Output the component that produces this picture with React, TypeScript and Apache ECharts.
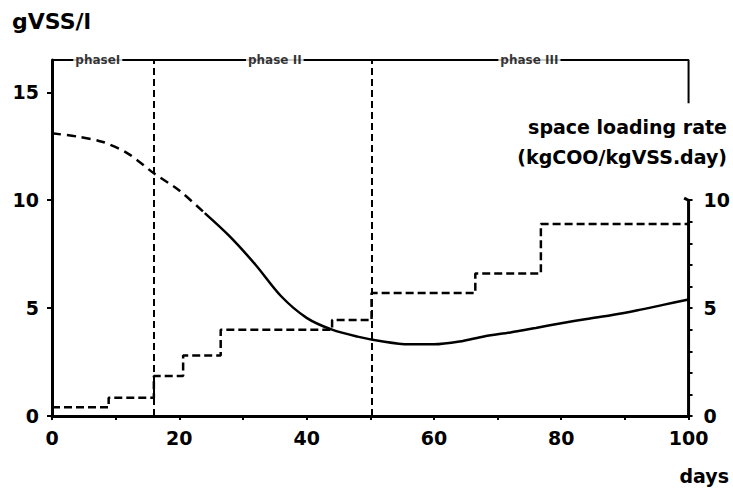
import { useEffect, useRef } from 'react';
import * as echarts from 'echarts';

// ---- data ----
const days = [0, 4, 8, 12, 16, 20, 24, 28, 32, 36, 40, 44, 48, 52, 56, 60, 64, 68, 72, 76, 80, 84, 88, 92, 96, 100];
const biomass = [13.1, 12.95, 12.7, 12.15, 11.25, 10.45, 9.4, 8.3, 7.0, 5.55, 4.55, 4.0, 3.68, 3.45, 3.32, 3.32, 3.45, 3.7, 3.87, 4.08, 4.3, 4.5, 4.68, 4.9, 5.15, 5.4];
const dashedUntilDay = 24;

const stepDays = [0, 8.9, 16, 20.6, 26.5, 44, 50.2, 66.5, 76.8, 100];
const stepRates = [0.4, 0.85, 1.85, 2.8, 4.0, 4.45, 5.7, 6.6, 8.9, 8.9];

const phaseBoundaries = [16, 50.2];
const phaseNames = ['phaseI', 'phase II', 'phase III'];
const phaseLabelDays = [7.2, 35, 75];

const xLabelTicks = [0, 20, 40, 60, 80, 100];
const xMinorTicks = [0, 10, 20, 30, 40, 50, 60, 70, 80, 90, 100];
const leftTicks = [0, 5, 10, 15];
const rightLabelTicks = [0, 5, 10];
const rightMinorTicks = [0, 1, 2, 3, 4, 5, 6, 7, 8, 9, 10];

const LEFT_MAX = 16.5;
const BRACKET_END = 14.5;
const RIGHT_AXIS_TOP = 10;

const FONT = 'DejaVu Sans';

export default function App() {
  const ref = useRef<HTMLDivElement>(null);

  useEffect(() => {
    const chart = echarts.init(ref.current!, null, { renderer: 'svg' });
    const pts = days.map((d, i) => [d, biomass[i]]);
    const dashedPts = pts.filter((p) => p[0] <= dashedUntilDay);
    const solidPts = pts.filter((p) => p[0] >= dashedUntilDay);
    const stepPts = stepDays.map((d, i) => [d, stepRates[i]]);

    const labelStyle = { color: '#000', fontSize: 19, fontWeight: 'bold' as const, fontFamily: FONT };

    chart.setOption({
      animation: false,
      backgroundColor: '#fff',
      grid: { left: 52, right: 41, top: 60, bottom: 77 },
      xAxis: {
        type: 'value',
        min: 0,
        max: 100,
        interval: 10,
        axisLine: { show: true, lineStyle: { color: '#000', width: 3 } },
        axisTick: { show: true, customValues: xMinorTicks, length: 4, lineStyle: { color: '#000', width: 2 } },
        axisLabel: { ...labelStyle, customValues: xLabelTicks, margin: 12 },
        splitLine: { show: false },
      },
      yAxis: [
        {
          type: 'value',
          min: 0,
          max: LEFT_MAX,
          position: 'left',
          axisLine: { show: true, lineStyle: { color: '#000', width: 3 } },
          axisTick: { show: true, customValues: leftTicks, length: 5, lineStyle: { color: '#000', width: 2 } },
          axisLabel: { ...labelStyle, customValues: leftTicks, margin: 13 },
          splitLine: { show: false },
        },
        {
          type: 'value',
          min: 0,
          max: LEFT_MAX,
          position: 'right',
          axisLine: { show: false },
          axisTick: { show: true, customValues: rightMinorTicks, length: 4, lineStyle: { color: '#000', width: 2 } },
          axisLabel: { ...labelStyle, customValues: rightLabelTicks, margin: 15 },
          splitLine: { show: false },
        },
      ],
      series: [
        {
          type: 'line',
          data: dashedPts,
          smooth: 0.3,
          symbol: 'none',
          lineStyle: { color: '#000', width: 2.5, type: [9, 6] },
        },
        {
          type: 'line',
          data: solidPts,
          smooth: 0.3,
          symbol: 'none',
          lineStyle: { color: '#000', width: 2.5 },
        },
        {
          type: 'line',
          yAxisIndex: 1,
          step: 'end',
          data: stepPts,
          symbol: 'none',
          lineStyle: { color: '#000', width: 2.5, type: [8, 4] },
          markLine: {
            silent: true,
            symbol: ['none', 'none'],
            label: { show: false },
            lineStyle: { color: '#000', width: 2, type: [7, 4] },
            data: phaseBoundaries.map((d) => ({ xAxis: d })),
          },
        },
        {
          type: 'line',
          yAxisIndex: 1,
          data: [[100, 0], [100, RIGHT_AXIS_TOP], [99.3, RIGHT_AXIS_TOP + 0.1]],
          symbol: 'none',
          clip: false,
          lineStyle: { color: '#000', width: 3 },
        },
        {
          type: 'line',
          data: [[0, LEFT_MAX], [100, LEFT_MAX], [100, BRACKET_END]],
          symbol: 'none',
          clip: false,
          lineStyle: { color: '#000', width: 2 },
        },
        {
          type: 'scatter',
          symbolSize: 0,
          clip: false,
          z: 10,
          data: phaseNames.map((n, i) => ({ name: n, value: [phaseLabelDays[i], LEFT_MAX] })),
          label: {
            show: true,
            position: 'inside',
            formatter: '{b}',
            color: '#000',
            fontSize: 12,
            fontWeight: 'bold',
            fontFamily: FONT,
            backgroundColor: '#fff',
            padding: [1, 2],
          },
        },
      ],
      graphic: [
        {
          type: 'text',
          left: 12,
          top: 10,
          z: 100,
          style: { text: 'gVSS/l', fill: '#000', font: `bold 22px "${FONT}"` },
        },
        {
          type: 'text',
          right: 6,
          top: 117,
          z: 100,
          style: { text: 'space loading rate', fill: '#000', font: `bold 19px "${FONT}"`, align: 'right' },
        },
        {
          type: 'text',
          right: 6,
          top: 147,
          z: 100,
          style: { text: '(kgCOO/kgVSS.day)', fill: '#000', font: `bold 19px "${FONT}"`, align: 'right' },
        },
        {
          type: 'text',
          right: 4,
          top: 466,
          z: 100,
          style: { text: 'days', fill: '#000', font: `bold 19px "${FONT}"` },
        },
      ],
    });
    return () => chart.dispose();
  }, []);

  return <div ref={ref} style={{ width: 733, height: 493, position: 'absolute', left: 0, top: 0 }} />;
}
